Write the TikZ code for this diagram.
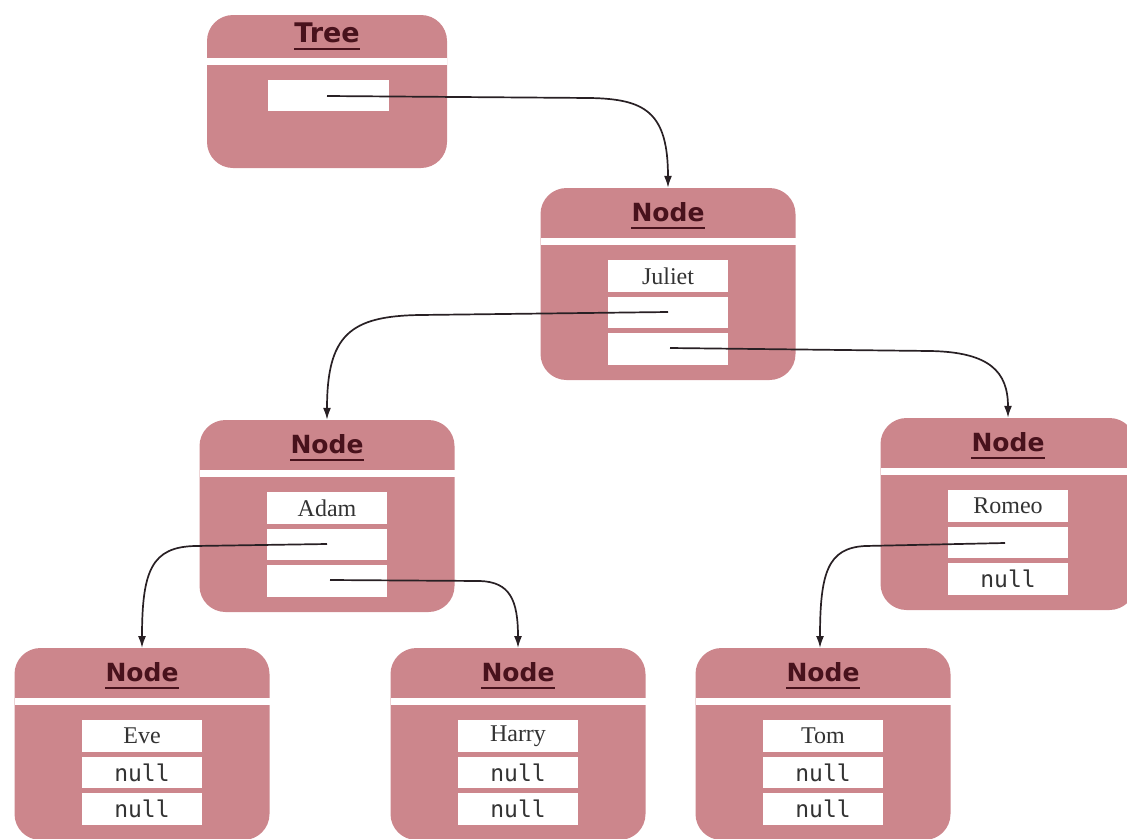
\documentclass[tikz,border=0pt]{standalone}
\usepackage{fontspec}
\setmainfont{Liberation Serif}
\newfontfamily\hdfont{DejaVu Sans}
\newfontfamily\codefont{DejaVu Sans Mono}
\usetikzlibrary{arrows.meta}
\definecolor{boxpink}{RGB}{204,134,140}
\definecolor{hdtext}{RGB}{72,18,28}
\definecolor{linecol}{RGB}{40,32,36}
\newcommand\namefnt{\fontsize{24}{24}\selectfont}
\newcommand\nullfnt{\codefont\fontsize{23}{23}\selectfont}
\tikzset{
  objshape/.style={fill=boxpink, rounded corners=26pt, minimum width=255pt, inner sep=0pt, draw=none},
  hd/.style={font=\hdfont\bfseries\fontsize{25}{25}\selectfont, text=hdtext, inner sep=0pt, anchor=base},
  ul/.style={draw=hdtext, line width=2.2pt},
  band/.style={fill=white, draw=none},
  field/.style={fill=white, minimum width=120pt, minimum height=31.5pt, inner sep=0pt, text=black!80},
  conn/.style={draw=linecol, line width=1.7pt, -{Latex[length=12pt,width=8pt]}},
}
\newcommand\objbox[6]{%
  \node[objshape, minimum height=192pt] (#1) at (#2,#3+96) {};
  \node[hd] (#1-h) at (#2,#3+33) {Node};
  \draw[ul] ([yshift=-7pt]#1-h.base west) -- ([yshift=-7pt]#1-h.base east);
  \fill[band] (#2-127.5,#3+50) rectangle (#2+127.5,#3+57);
  \node[field] (#1-a) at (#2,#3+88) {#4};
  \node[field] (#1-b) at (#2,#3+124.5) {#5};
  \node[field] (#1-c) at (#2,#3+161) {#6};
}
\begin{document}
\begin{tikzpicture}[x=1pt,y=-1pt]
\useasboundingbox (0,0) rectangle (1127,838);
% Tree
\node[objshape, minimum width=240pt, minimum height=153pt] (tree) at (327,91.5) {};
\node[hd, font=\hdfont\bfseries\fontsize{27}{27}\selectfont] (tree-h) at (327,42) {Tree};
\draw[ul] ([yshift=-7pt]tree-h.base west) -- ([yshift=-7pt]tree-h.base east);
\fill[band] (207,58) rectangle (447,65);
\node[field, minimum width=121pt] (tree-a) at (328.5,95.5) {};
% Nodes
\objbox{juliet}{668}{188}{\namefnt Juliet}{}{}
\objbox{adam}{327}{420}{\namefnt Adam}{}{}
\objbox{romeo}{1008}{418}{\namefnt Romeo}{}{\nullfnt null}
\objbox{eve}{142}{648}{\namefnt Eve}{\nullfnt null}{\nullfnt null}
\objbox{harry}{518}{648}{\namefnt Harry}{\nullfnt null}{\nullfnt null}
\objbox{tom}{823}{648}{\namefnt Tom}{\nullfnt null}{\nullfnt null}
% connector start points
\coordinate (t0) at (327,96);
\coordinate (jl) at (668,312);
\coordinate (jr) at (670,348);
\coordinate (al) at (327,544);
\coordinate (ar) at (330,580);
\coordinate (rl) at (1005,543);
\coordinate (eveT) at (142,648);
\coordinate (harryT) at (518,648);
\coordinate (tomT) at (820,648);
% connectors
\draw[conn] (t0) -- (590,98) .. controls (645,99) and (668,112) .. (juliet.north);
\draw[conn] (jl) -- (420,315) .. controls (350,316) and (327,335) .. (adam.north);
\draw[conn] (jr) -- (930,351) .. controls (990,352) and (1008,372) .. (romeo.north);
\draw[conn] (al) -- (195,546) .. controls (152,547) and (142,570) .. (eveT);
\draw[conn] (ar) -- (480,581) .. controls (510,582) and (518,600) .. (harryT);
\draw[conn] (rl) -- (865,546) .. controls (828,548) and (820,572) .. (tomT);
\end{tikzpicture}
\end{document}
